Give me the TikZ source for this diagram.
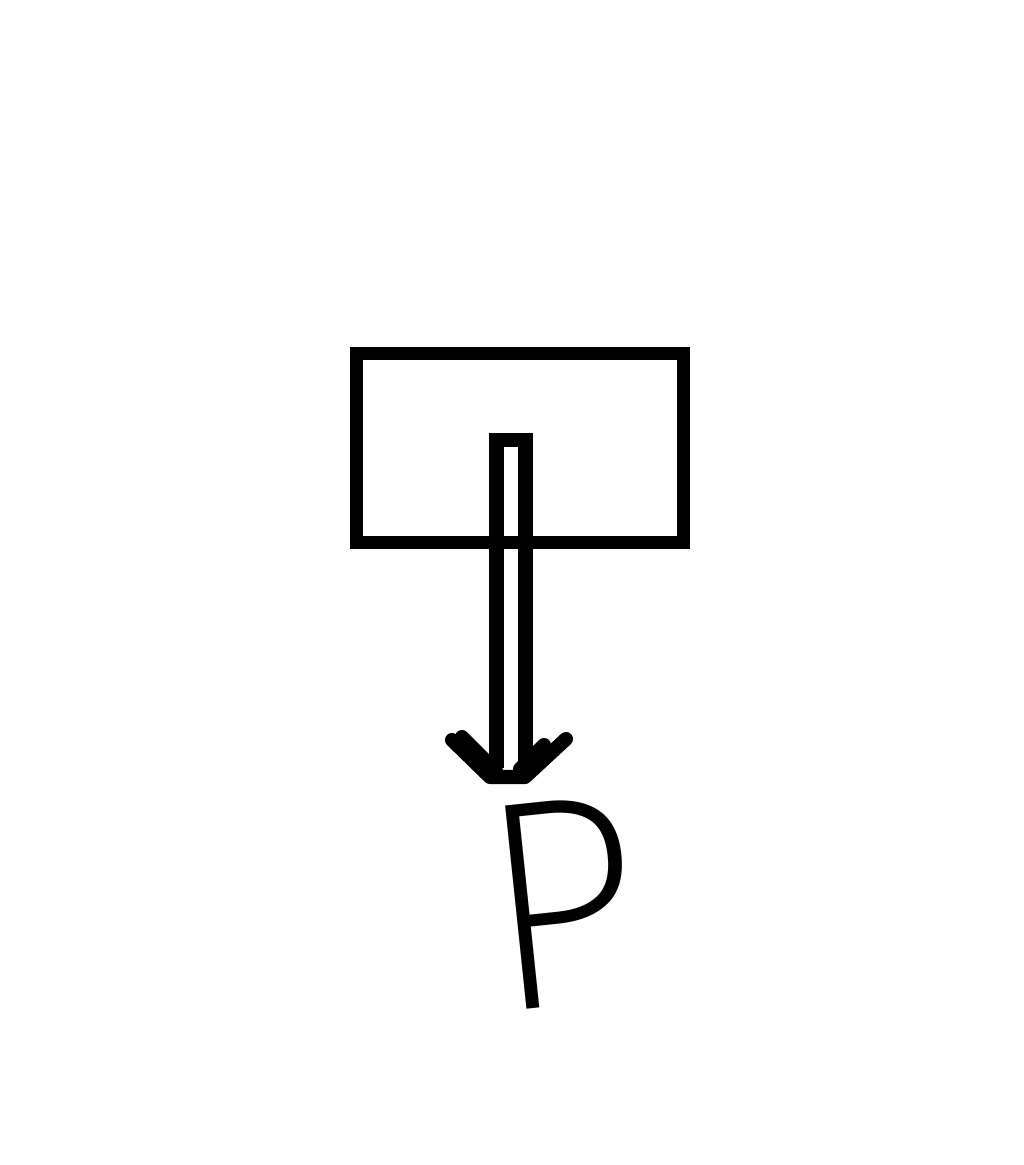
\documentclass[tikz,border=0pt]{standalone}
\usepackage{fontspec}
\newfontfamily\handfont{Fira Sans}[UprightFont={* ExtraLight}]
\usetikzlibrary{positioning}

\begin{document}
\begin{tikzpicture}[line width=3.6pt, line cap=round, line join=round]

\useasboundingbox (0,0) rectangle (10.24,11.65);

\node[draw, line cap=butt, line join=miter, minimum width=3.27cm, minimum height=1.89cm] (block) at (5.20,7.17) {};

% shaft of the arrow, closed at the top
\coordinate (shaftL) at (4.965,3.97);
\coordinate (shaftR) at (5.255,3.97);
\draw[line width=4.2pt, line cap=butt, line join=miter] (shaftL) -- (4.965,7.25) -- (5.255,7.25) -- (shaftR);

% head, drawn by hand
\coordinate (tipL) at (4.90,3.88);
\coordinate (tipR) at (5.25,3.88);
\draw[line width=4pt] (4.52,4.25) -- (tipL) -- (tipR) -- (5.66,4.26);
\draw[line width=4pt] (4.62,4.28) -- (4.96,3.94);
\draw[line width=4pt] (5.44,4.20) -- (5.20,3.96);

\node[inner sep=0pt, rotate=6, xscale=0.92, font=\handfont\fontsize{85}{85}\selectfont] (P) at (5.62,2.62) {P};

\end{tikzpicture}
\end{document}
